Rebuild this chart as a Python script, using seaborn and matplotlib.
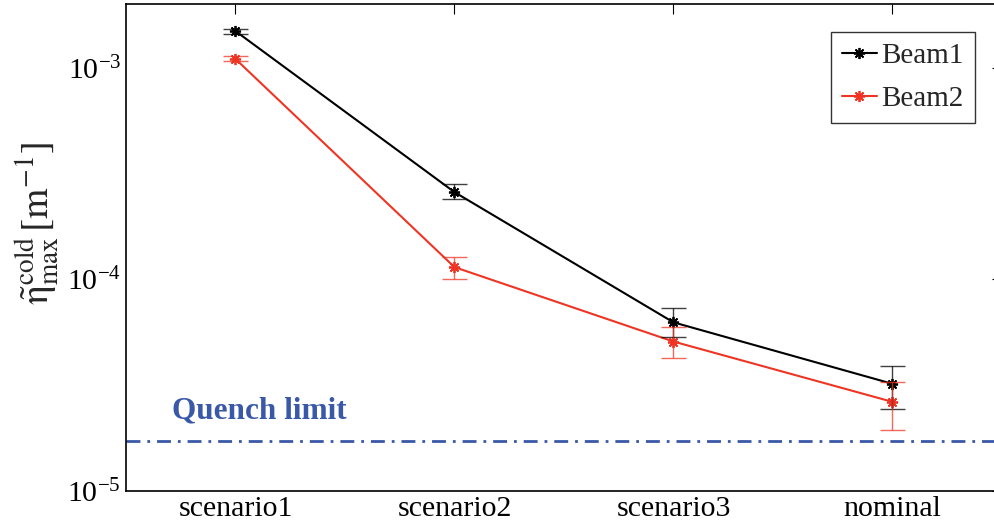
import numpy as np
import pandas as pd
import matplotlib
matplotlib.use('Agg')
import matplotlib.pyplot as plt
import seaborn as sns

# values
categories = ['scenario1', 'scenario2', 'scenario3', 'nominal']
beam1 = [1.49e-3, 2.58e-4, 6.25e-5, 3.20e-5]
beam1_lo = [1.45e-3, 2.39e-4, 5.35e-5, 2.44e-5]
beam1_hi = [1.53e-3, 2.82e-4, 7.31e-5, 3.89e-5]
beam2 = [1.10e-3, 1.14e-4, 5.07e-5, 2.63e-5]
beam2_lo = [1.07e-3, 1.00e-4, 4.26e-5, 1.94e-5]
beam2_hi = [1.13e-3, 1.27e-4, 5.96e-5, 3.27e-5]
quench_limit = 1.72e-5

colors = {'Beam1': 'black', 'Beam2': '#ee3524'}
quench_color = '#3a58a8'

sns.set_style('white')
plt.rcParams['font.family'] = ['Liberation Serif', 'DejaVu Serif']
plt.rcParams['mathtext.fontset'] = 'stix'

df = pd.DataFrame({
    'scenario': categories * 2,
    'eta': beam1 + beam2,
    'beam': ['Beam1'] * 4 + ['Beam2'] * 4,
})

fig = plt.figure(figsize=(9.95, 5.28), dpi=100)
ax = fig.add_axes([0.1266, 0.0707, 0.8804, 0.9217])

sns.lineplot(data=df, x='scenario', y='eta', hue='beam', palette=colors,
             sort=False, marker=(8, 2, 0), markersize=8, linewidth=1.5,
             legend=False, ax=ax)
data_lines = list(ax.get_lines())
for line, name in zip(data_lines, ['Beam1', 'Beam2']):
    line.set_markeredgecolor(colors[name])
    line.set_markeredgewidth(1.3)
    line.set_label(name)

x = np.arange(len(categories))
for vals, lo, hi, name in [(beam1, beam1_lo, beam1_hi, 'Beam1'),
                           (beam2, beam2_lo, beam2_hi, 'Beam2')]:
    vals = np.array(vals)
    yerr = [vals - np.array(lo), np.array(hi) - vals]
    ax.errorbar(x, vals, yerr=yerr, fmt='none', ecolor=colors[name],
                elinewidth=1.0, capsize=9, capthick=1.0, alpha=0.75)

ax.axhline(quench_limit, color=quench_color, linestyle=(0, (5, 2.5, 1, 2.5)),
           linewidth=2)
ax.text(0.0525, 2.38e-5, 'Quench limit', transform=ax.get_yaxis_transform(),
        color=quench_color, fontsize=22.5, fontweight='bold', va='center')

ax.set_yscale('log')
ax.set_ylim(1e-5, 2e-3)
ax.set_xlim(-0.5, 3.5)
ax.set_xlabel('')
ax.set_ylabel(r'$\tilde{\mathrm{\eta}}^{\rm cold}_{\rm max}\,[{\rm m}^{-1}]$',
              fontsize=28)
ax.yaxis.set_label_coords(-0.074, 0.55)

ax.tick_params(which='both', direction='in', top=True, right=True,
               labelsize=21.5, colors='black')
ax.tick_params(which='major', length=7, width=0.8)
ax.tick_params(which='minor', length=4, width=0.8)
ax.tick_params(axis='x', which='minor', top=False, bottom=False)
for s in ax.spines.values():
    s.set_color('black')
    s.set_linewidth(1.2)

leg = ax.legend(handles=data_lines, labels=['Beam1', 'Beam2'],
                loc='upper right', bbox_to_anchor=(0.969, 0.9425),
                borderaxespad=0, fontsize=21, frameon=True, fancybox=False,
                edgecolor='black', handlelength=1.2, handletextpad=0.15,
                borderpad=0.38, labelspacing=0.55)
leg.get_frame().set_linewidth(1.0)

fig.savefig('out.png', dpi=100)
